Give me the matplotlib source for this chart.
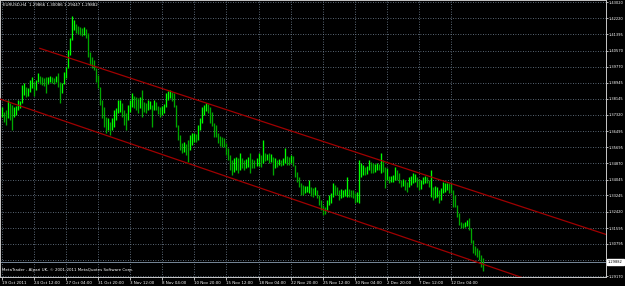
import matplotlib
matplotlib.use("Agg")
import matplotlib.pyplot as plt
import matplotlib.transforms as mtransforms

# ---------------- data ----------------
symbol_title = "EURUSD,H4  1.29866 1.30086 1.29447 1.29882"
copyright_text = "MetaTrader - Alpari UK, \u00a9 2001-2011 MetaQuotes Software Corp."

time_labels = ["19 Oct 2011", "24 Oct 12:00", "27 Oct 04:00", "31 Oct 20:00",
               "3 Nov 12:00", "8 Nov 04:00", "10 Nov 20:00", "15 Nov 12:00",
               "18 Nov 04:00", "22 Nov 20:00", "25 Nov 12:00", "30 Nov 04:00",
               "2 Dec 20:00", "7 Dec 12:00", "12 Dec 04:00"]
time_label_bars = [0, 16, 32, 48, 64, 80, 96, 112, 128, 144, 160, 176, 192, 208, 224]

price_ticks = [1.43020, 1.42220, 1.41395, 1.40570, 1.39770, 1.38945, 1.38145,
               1.37320, 1.36495, 1.35695, 1.34870, 1.34045, 1.33245, 1.32420,
               1.31595, 1.30795, 1.29970, 1.29170]

highs = [
    1.3772, 1.3747, 1.3757, 1.3808, 1.3792, 1.3782, 1.3772, 1.3777, 1.3808, 1.3803,
    1.3884, 1.3894, 1.3873, 1.3868, 1.3909, 1.3924, 1.3899, 1.3909, 1.3944, 1.3929,
    1.3924, 1.3919, 1.3924, 1.3924, 1.3929, 1.3924, 1.3919, 1.3929, 1.3944, 1.3899,
    1.3894, 1.3949, 1.3975, 1.4061, 1.4121, 1.4233, 1.4212, 1.4192, 1.4182, 1.4177,
    1.4172, 1.4177, 1.4167, 1.4147, 1.4050, 1.4025, 1.4010, 1.3970, 1.3934, 1.3873,
    1.3808, 1.3772, 1.3722, 1.3717, 1.3696, 1.3717, 1.3757, 1.3767, 1.3808, 1.3808,
    1.3792, 1.3757, 1.3742, 1.3782, 1.3808, 1.3843, 1.3828, 1.3823, 1.3818, 1.3823,
    1.3858, 1.3797, 1.3792, 1.3808, 1.3803, 1.3782, 1.3808, 1.3797, 1.3777, 1.3772,
    1.3777, 1.3787, 1.3843, 1.3853, 1.3858, 1.3848, 1.3843, 1.3782, 1.3681, 1.3631,
    1.3590, 1.3595, 1.3585, 1.3605, 1.3631, 1.3641, 1.3641, 1.3636, 1.3681, 1.3717,
    1.3772, 1.3782, 1.3792, 1.3787, 1.3772, 1.3747, 1.3691, 1.3681, 1.3641, 1.3625,
    1.3620, 1.3615, 1.3590, 1.3565, 1.3529, 1.3504, 1.3514, 1.3519, 1.3514, 1.3539,
    1.3514, 1.3504, 1.3509, 1.3519, 1.3539, 1.3509, 1.3504, 1.3514, 1.3539, 1.3529,
    1.3605, 1.3539, 1.3534, 1.3539, 1.3534, 1.3519, 1.3514, 1.3504, 1.3509, 1.3504,
    1.3514, 1.3565, 1.3524, 1.3519, 1.3529, 1.3524, 1.3479, 1.3443, 1.3418, 1.3388,
    1.3377, 1.3372, 1.3372, 1.3403, 1.3367, 1.3362, 1.3367, 1.3352, 1.3327, 1.3302,
    1.3276, 1.3266, 1.3302, 1.3327, 1.3337, 1.3388, 1.3377, 1.3367, 1.3352, 1.3357,
    1.3352, 1.3357, 1.3418, 1.3357, 1.3352, 1.3352, 1.3337, 1.3342, 1.3504, 1.3489,
    1.3479, 1.3469, 1.3474, 1.3504, 1.3494, 1.3489, 1.3484, 1.3489, 1.3484, 1.3539,
    1.3504, 1.3469, 1.3464, 1.3423, 1.3423, 1.3428, 1.3469, 1.3453, 1.3438, 1.3403,
    1.3408, 1.3403, 1.3393, 1.3418, 1.3423, 1.3438, 1.3433, 1.3418, 1.3408, 1.3403,
    1.3418, 1.3423, 1.3418, 1.3403, 1.3453, 1.3367, 1.3372, 1.3367, 1.3352, 1.3362,
    1.3393, 1.3388, 1.3388, 1.3388, 1.3383, 1.3352, 1.3327, 1.3276, 1.3236, 1.3190,
    1.3185, 1.3190, 1.3200, 1.3211, 1.3160, 1.3099, 1.3069, 1.3059, 1.3049, 1.3023,
    1.30086]

lows = [
    1.3722, 1.3696, 1.3681, 1.3717, 1.3706, 1.3656, 1.3722, 1.3732, 1.3757, 1.3767,
    1.3792, 1.3833, 1.3823, 1.3828, 1.3848, 1.3868, 1.3828, 1.3858, 1.3899, 1.3889,
    1.3884, 1.3878, 1.3843, 1.3889, 1.3899, 1.3894, 1.3889, 1.3899, 1.3873, 1.3792,
    1.3843, 1.3889, 1.3919, 1.3970, 1.4035, 1.4111, 1.4162, 1.4147, 1.4142, 1.4137,
    1.4131, 1.4137, 1.4121, 1.4025, 1.3985, 1.3970, 1.3959, 1.3899, 1.3868, 1.3782,
    1.3717, 1.3671, 1.3641, 1.3656, 1.3631, 1.3656, 1.3671, 1.3706, 1.3742, 1.3747,
    1.3722, 1.3681, 1.3656, 1.3706, 1.3747, 1.3772, 1.3767, 1.3757, 1.3742, 1.3767,
    1.3722, 1.3747, 1.3742, 1.3757, 1.3762, 1.3671, 1.3757, 1.3757, 1.3737, 1.3722,
    1.3732, 1.3742, 1.3772, 1.3808, 1.3818, 1.3803, 1.3772, 1.3671, 1.3605, 1.3555,
    1.3539, 1.3544, 1.3529, 1.3494, 1.3555, 1.3580, 1.3595, 1.3595, 1.3605, 1.3656,
    1.3691, 1.3732, 1.3752, 1.3742, 1.3691, 1.3676, 1.3620, 1.3620, 1.3590, 1.3575,
    1.3570, 1.3570, 1.3529, 1.3504, 1.3453, 1.3428, 1.3443, 1.3453, 1.3438, 1.3453,
    1.3464, 1.3453, 1.3464, 1.3469, 1.3438, 1.3464, 1.3464, 1.3474, 1.3474, 1.3469,
    1.3489, 1.3499, 1.3504, 1.3489, 1.3494, 1.3428, 1.3464, 1.3469, 1.3479, 1.3474,
    1.3479, 1.3489, 1.3479, 1.3479, 1.3489, 1.3474, 1.3418, 1.3393, 1.3367, 1.3327,
    1.3327, 1.3337, 1.3342, 1.3337, 1.3322, 1.3317, 1.3327, 1.3312, 1.3276, 1.3251,
    1.3226, 1.3231, 1.3251, 1.3276, 1.3286, 1.3317, 1.3327, 1.3327, 1.3302, 1.3312,
    1.3317, 1.3322, 1.3317, 1.3317, 1.3317, 1.3312, 1.3286, 1.3291, 1.3286, 1.3418,
    1.3428, 1.3428, 1.3433, 1.3453, 1.3438, 1.3438, 1.3443, 1.3453, 1.3453, 1.3438,
    1.3443, 1.3362, 1.3403, 1.3388, 1.3393, 1.3393, 1.3403, 1.3403, 1.3388, 1.3367,
    1.3372, 1.3352, 1.3342, 1.3367, 1.3377, 1.3388, 1.3393, 1.3367, 1.3352, 1.3357,
    1.3383, 1.3388, 1.3388, 1.3367, 1.3317, 1.3302, 1.3312, 1.3317, 1.3286, 1.3302,
    1.3337, 1.3342, 1.3352, 1.3337, 1.3337, 1.3266, 1.3266, 1.3216, 1.3175, 1.3160,
    1.3160, 1.3165, 1.3170, 1.3150, 1.3084, 1.3033, 1.3023, 1.3013, 1.2998, 1.2963,
    1.29447]

current_price = 1.29882

upper_channel_bars = [19, 301]
upper_channel_prices = [1.4069, 1.3128]
lower_channel_bars = [-1, 262]
lower_channel_prices = [1.3813, 1.2900]

# ---------------- style ----------------
W, H = 625, 286
BG = "#000000"
FG = "#ffffff"
GRID = "#778899"
UP = "#00ff00"
DOWN = "#00a800"
CHAN = "#a00000"
FS = 2.9
FS_Y = 2.65
FONT = "DejaVu Sans"

fig = plt.figure(figsize=(W / 100, H / 100), dpi=100, facecolor=BG)
ax = fig.add_axes([0.0, 1 - 277 / H, 606 / W, 277 / H])
ax.set_facecolor(BG)
ax.set_xlim(-0.85, 301.2)
ax.set_ylim(1.29120, 1.43136)

# ticks / grid
ax.set_xticks(time_label_bars)
ax.set_xticklabels(time_labels, ha="left", fontsize=FS, color=FG, family=FONT)
ax.yaxis.tick_right()
ax.set_yticks(price_ticks)
ax.set_yticklabels([f"{p:.5f}" for p in price_ticks], fontsize=FS_Y, color=FG, family=FONT)
ax.tick_params(axis="x", colors=FG, length=2, width=0.5, pad=1.0, labelcolor=FG)
ax.tick_params(axis="y", colors=FG, length=1.5, width=0.5, pad=0.4, labelcolor=FG)
ax.grid(True, color=GRID, linestyle=(0, (1, 2)), linewidth=0.6)
ax.set_axisbelow(True)
for s in ax.spines.values():
    s.set_color("#c8c8c8")
    s.set_linewidth(0.7)

# bars
idx = list(range(len(highs)))
mids = [(h + l) / 2 for h, l in zip(highs, lows)]
colors = [UP if i == 0 or mids[i] >= mids[i - 1] else DOWN for i in idx]
ax.vlines(idx, lows, highs, colors=colors, linewidth=0.95, zorder=3)

# channel lines
ax.plot(upper_channel_bars, upper_channel_prices, color=CHAN, linewidth=0.9, zorder=4)
ax.plot(lower_channel_bars, lower_channel_prices, color=CHAN, linewidth=0.9, zorder=4)

# current price line and label
ax.axhline(current_price, color=GRID, linewidth=0.7, zorder=2)
trans = mtransforms.blended_transform_factory(ax.transAxes, ax.transData)
ax.text(1.003, current_price, f"{current_price:.5f}", transform=trans, ha="left",
        va="center", fontsize=FS_Y, color="#000000", family=FONT, clip_on=False, zorder=10,
        bbox=dict(boxstyle="square,pad=0.3", facecolor="#ffffff", edgecolor="#ffffff"))

# texts
fig.text(3 / W, 1 - 5 / H, symbol_title, ha="left", va="center", fontsize=FS,
         color=FG, family=FONT)
fig.text(2 / W, 1 - 270 / H, copyright_text, ha="left", va="center", fontsize=FS,
         color=FG, family=FONT)

fig.savefig("out.png", dpi=100, facecolor=BG)
